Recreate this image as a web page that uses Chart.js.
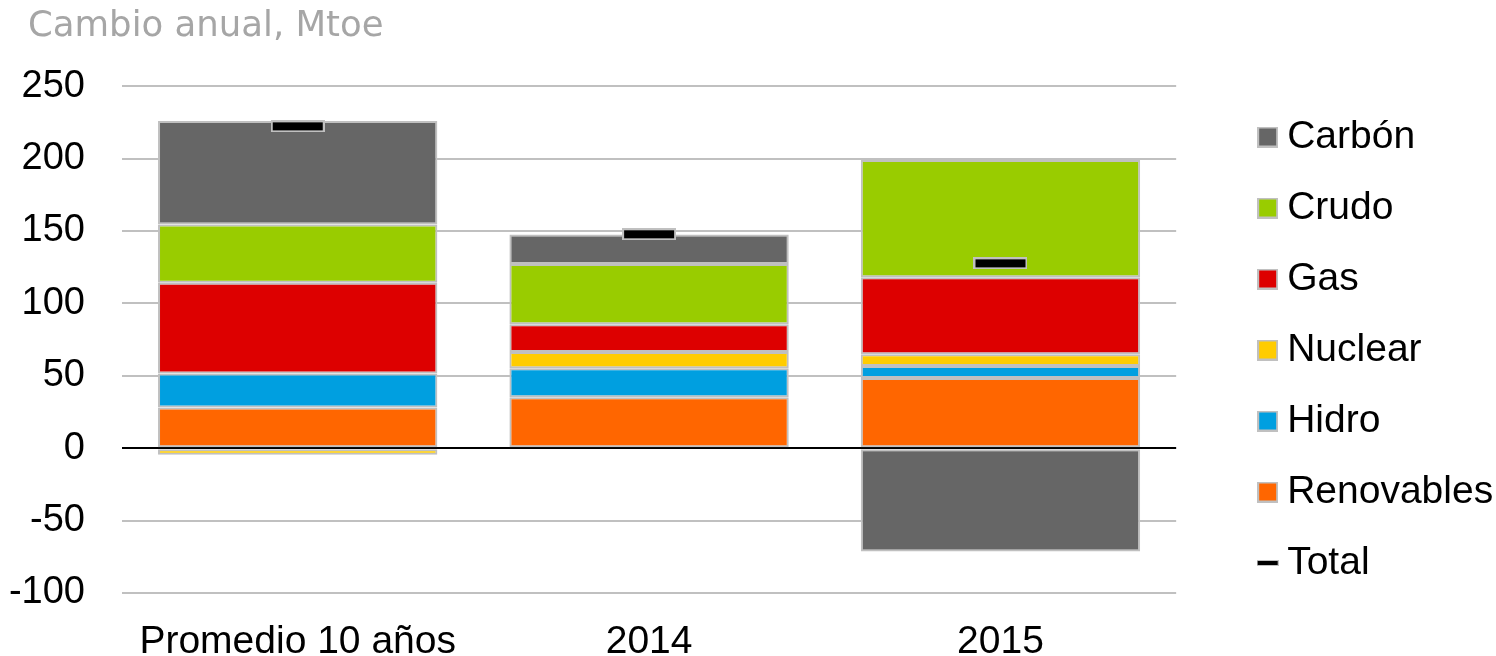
<!DOCTYPE html>
<html>
<head>
<meta charset="utf-8">
<script src="https://cdn.jsdelivr.net/npm/chart.js@4.4.1/dist/chart.umd.min.js"></script>
<style>
html,body{margin:0;padding:0;background:#fff;}
#wrap{width:1496px;height:656px;position:relative;}
</style>
</head>
<body>
<div id="wrap"><canvas id="c" width="1496" height="656"></canvas></div>
<script>
const categories = ['Promedio 10 años', '2014', '2015'];
const renovables = [28.1, 35.2, 48.5];
const hidro = [23.4, 20.0, 8.3];
const nuclear = [-4.6, 11.2, 8.0];
const gas = [62.8, 19.1, 53.3];
const crudo = [40.2, 41.6, 80.8];
const carbon = [71.4, 20.5, -71.4];
const total = [222.2, 147.7, 127.6];
const yTicks = [-100, -50, 0, 50, 100, 150, 200, 250];

const colors = {
  Renovables: '#ff6600', Hidro: '#009fe0', Nuclear: '#ffcc00',
  Gas: '#dd0000', Crudo: '#99cc00', 'Carbón': '#666666'
};
const borderGray = '#c0c0c0';

function makeCanvas(w, h, fill, bw) {
  const cv = document.createElement('canvas');
  cv.width = w; cv.height = h;
  const x = cv.getContext('2d');
  x.fillStyle = borderGray; x.fillRect(0, 0, w, h);
  x.fillStyle = fill; x.fillRect(bw, bw, w - 2 * bw, h - 2 * bw);
  return cv;
}
const totalMarker = makeCanvas(54, 12, '#000000', 2);

const barSeries = [
  ['Renovables', renovables], ['Hidro', hidro], ['Nuclear', nuclear],
  ['Gas', gas], ['Crudo', crudo], ['Carbón', carbon]
];
const datasets = barSeries.map(([name, vals]) => ({
  type: 'bar', label: name, data: vals, backgroundColor: colors[name],
  borderColor: borderGray, borderWidth: 2, borderSkipped: false,
  stack: 'main', order: 2, categoryPercentage: 1, barPercentage: 0.795
}));
datasets.push({
  type: 'line', label: 'Total', data: total, showLine: false, stack: 'total',
  pointStyle: totalMarker, pointRadius: 6, pointHoverRadius: 6, order: 0,
  backgroundColor: '#000', borderColor: '#000'
});

const legendOrder = ['Carbón', 'Crudo', 'Gas', 'Nuclear', 'Hidro', 'Renovables', 'Total'];

const layoutTweak = {
  id: 'layoutTweak',
  afterLayout(chart) {
    if (chart.titleBlock) { chart.titleBlock.left = 28; }
    if (chart.legend) { chart.legend.left -= 11; }
  }
};

new Chart(document.getElementById('c'), {
  data: { labels: categories, datasets },
  plugins: [layoutTweak],
  options: {
    responsive: false, animation: false, maintainAspectRatio: false,
    layout: { padding: { left: 0, right: 0, top: 4, bottom: 0 } },
    plugins: {
      tooltip: { enabled: false },
      title: {
        display: true, text: 'Cambio anual, Mtoe', align: 'start',
        color: '#a6a6a6', font: { family: 'DejaVu Sans', size: 35.5, weight: 'normal' },
        padding: { top: 1, bottom: 38.5 }
      },
      legend: {
        position: 'right', align: 'center',
        title: { display: true, text: ' ', font: { size: 10 }, padding: 14 },
        labels: {
          usePointStyle: true, pointStyleWidth: 0.01,
          color: '#000', font: { family: 'Liberation Sans', size: 39 }, padding: 32,
          generateLabels(chart) {
            const items = chart.data.datasets.map((ds, i) => ({
              text: ds.label, datasetIndex: i, hidden: false, lineWidth: 0,
              fillStyle: '#000', strokeStyle: '#000', fontColor: '#000',
              pointStyle: ds.label === 'Total' ? makeCanvas(22, 6, '#000', 1) : makeCanvas(21, 21, ds.backgroundColor, 2)
            }));
            return items.sort((a, b) => legendOrder.indexOf(a.text) - legendOrder.indexOf(b.text));
          }
        }
      }
    },
    scales: {
      x: {
        stacked: true,
        grid: { display: false },
        border: { display: false },
        ticks: { color: '#000', font: { family: 'Liberation Sans', size: 39 }, padding: 18 },
        afterFit(s) { s.paddingLeft = 0; s.paddingRight = 0; s.height = 63; }
      },
      y: {
        stacked: true, min: -100, max: 250,
        afterBuildTicks(s) { s.ticks = yTicks.map(v => ({ value: v })); },
        grid: {
          drawTicks: false, lineWidth: 2,
          color: ctx => (ctx.tick && ctx.tick.value === 0) ? '#000000' : '#c0c0c0'
        },
        border: { display: false },
        ticks: { color: '#000', font: { family: 'Liberation Sans', size: 38 }, padding: 37 },
        afterFit(s) { s.width = 122; s.paddingTop = 0; s.paddingBottom = 0; }
      },
      yR: {
        position: 'right', display: true,
        grid: { display: false }, border: { display: false },
        ticks: { display: false },
        afterFit(s) { s.width = 70.5; }
      }
    }
  }
});
</script>
</body>
</html>
